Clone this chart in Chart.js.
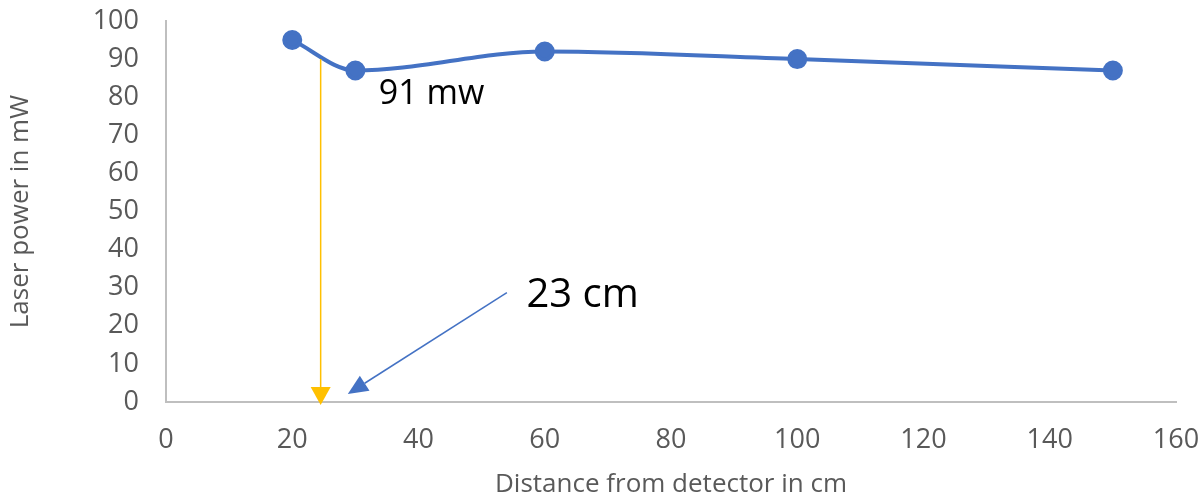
<!DOCTYPE html>
<html>
<head>
<meta charset="utf-8">
<script src="https://cdn.jsdelivr.net/npm/chart.js@4/dist/chart.umd.min.js"></script>
<style>
  html, body { margin: 0; padding: 0; background: #fff; }
  #wrap { width: 1204px; height: 498px; }
</style>
</head>
<body>
<div id="wrap"><canvas id="chart" width="1204" height="498"></canvas></div>
<script>
// Measured laser power vs distance
const distances = [20, 30, 60, 100, 150];
const power = [95, 87, 92, 90, 87];

// Axis ranges
const xTicks = [0, 160, 20];   // min, max, step
const yTicks = [0, 100, 10];

// Callouts, in axis units: [x, y] start -> end
const goldArrow = [[24.5, 90], [24.5, -0.8]];
const blueArrow = [[54, 28.7], [28.8, 2.1]];
const powerNote = ['91 mw', 33.7, 78.2];
const distNote = ['23 cm', 57.1, 25.0];

const FONT = "'Open Sans', 'Noto Sans', sans-serif";

function arrow(ctx, x1, y1, x2, y2, color, len, half) {
    const ang = Math.atan2(y2 - y1, x2 - x1);
    const bx = x2 - len * Math.cos(ang);
    const by = y2 - len * Math.sin(ang);
    ctx.save();
    ctx.strokeStyle = color;
    ctx.fillStyle = color;
    ctx.lineWidth = 1.5;
    ctx.beginPath();
    ctx.moveTo(x1, y1);
    ctx.lineTo(bx, by);
    ctx.stroke();
    ctx.beginPath();
    ctx.moveTo(x2, y2);
    ctx.lineTo(bx + half * Math.sin(ang), by - half * Math.cos(ang));
    ctx.lineTo(bx - half * Math.sin(ang), by + half * Math.cos(ang));
    ctx.closePath();
    ctx.fill();
    ctx.restore();
}

const callouts = {
    id: 'callouts',
    afterDatasetsDraw(chart) {
        const { ctx, scales: { x, y } } = chart;
        const px = v => x.getPixelForValue(v);
        const py = v => y.getPixelForValue(v);

        arrow(ctx, px(goldArrow[0][0]), py(goldArrow[0][1]), px(goldArrow[1][0]), py(goldArrow[1][1]), '#FFC000', 18, 10);
        arrow(ctx, px(blueArrow[0][0]), py(blueArrow[0][1]), px(blueArrow[1][0]), py(blueArrow[1][1]), '#4472C4', 20, 9);

        ctx.save();
        ctx.fillStyle = '#000';
        ctx.textAlign = 'left';
        ctx.textBaseline = 'alphabetic';
        ctx.font = '34px ' + FONT;
        ctx.fillText(powerNote[0], px(powerNote[1]), py(powerNote[2]));
        ctx.font = '40px ' + FONT;
        ctx.fillText(distNote[0], px(distNote[1]), py(distNote[2]));
        ctx.restore();
    }
};

// fixed axis boxes, no extra room for overhanging tick labels
function fixX(s) {
    s.height = 96;
    s.paddingLeft = 0;
    s.paddingRight = 0;
}
function fixY(s) {
    s.width = 166;
    s.paddingTop = 0;
    s.paddingBottom = 0;
}

const ctx = document.getElementById('chart').getContext('2d');

new Chart(ctx, {
    type: 'line',
    data: {
        datasets: [{
            data: distances.map((d, i) => ({ x: d, y: power[i] })),
            borderColor: '#4472C4',
            backgroundColor: '#4472C4',
            borderWidth: 4,
            pointRadius: 8,
            pointHoverRadius: 8,
            cubicInterpolationMode: 'monotone',
            fill: false
        }]
    },
    options: {
        responsive: false,
        animation: false,
        layout: { padding: { top: 21, right: 28, left: 0, bottom: 0 } },
        plugins: {
            legend: { display: false },
            tooltip: { enabled: false }
        },
        scales: {
            x: {
                type: 'linear',
                min: xTicks[0],
                max: xTicks[1],
                afterFit: fixX,
                grid: { display: false, drawTicks: false },
                border: { display: true, color: '#BFBFBF', width: 2 },
                ticks: {
                    stepSize: xTicks[2],
                    color: '#595959',
                    padding: 22,
                    maxRotation: 0,
                    font: { family: FONT, size: 27 }
                },
                title: {
                    display: true,
                    text: 'Distance from detector in cm',
                    color: '#595959',
                    font: { family: FONT, size: 26, lineHeight: 1.0 },
                    padding: { top: 0, bottom: 0 }
                }
            },
            y: {
                min: yTicks[0],
                max: yTicks[1],
                afterFit: fixY,
                grid: { display: false, drawTicks: false },
                border: { display: true, color: '#BFBFBF', width: 2 },
                ticks: {
                    stepSize: yTicks[2],
                    color: '#595959',
                    padding: 27,
                    font: { family: FONT, size: 27 }
                },
                title: {
                    display: true,
                    text: 'Laser power in mW',
                    color: '#595959',
                    font: { family: FONT, size: 26, lineHeight: 1.2 },
                    padding: { top: 5, bottom: 0 }
                }
            }
        }
    },
    plugins: [callouts]
});
</script>
</body>
</html>
